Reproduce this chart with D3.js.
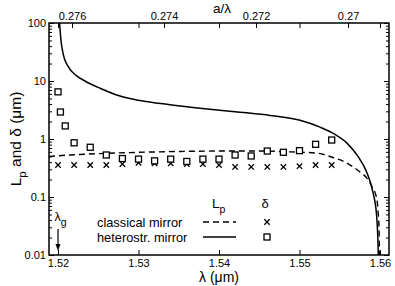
<!DOCTYPE html>
<html lang="en">
<head>
<meta charset="UTF-8">
<title>Lp and delta</title>
<script src="https://d3js.org/d3.v7.min.js"></script>
<style>
    body { margin: 0; background: #fff; }
    svg text { font-family: "Liberation Sans", Arial, sans-serif; fill: #000; }
    .tick text { font-size: 11px; }
</style>
</head>
<body>
<svg id="chart"></svg>
<script>
    // heterostructure mirror, Lp (solid)
    const hetLambda = [1.52019, 1.52037, 1.52062, 1.52124, 1.52224, 1.52335, 1.52522, 1.52770, 1.53019,
        1.53391, 1.53764, 1.54261, 1.54634, 1.55006, 1.55255, 1.55441, 1.55590, 1.55727, 1.55839,
        1.55913, 1.55957, 1.55973, 1.55979];
    const hetLp = [100, 50, 30, 18, 12.5, 10, 7.5, 5.5, 4.6, 3.9, 3.4, 2.9, 2.55, 2.1, 1.6, 1.2, 0.85,
        0.5, 0.26, 0.12, 0.05, 0.02, 0.01];

    // classical mirror, Lp (dashed)
    const clsLambda = [1.51888, 1.52149, 1.52522, 1.53019, 1.53516, 1.54012, 1.54509, 1.54882, 1.55217,
        1.55416, 1.55565, 1.55652, 1.55752, 1.55839, 1.55901, 1.55938, 1.55967, 1.55979, 1.55988, 1.55994];
    const clsLp = [0.50, 0.53, 0.56, 0.59, 0.61, 0.62, 0.62, 0.60, 0.57, 0.48, 0.40, 0.34, 0.27, 0.21,
        0.15, 0.12, 0.08, 0.05, 0.03, 0.01];

    // delta, classical mirror (crosses)
    const crossLambda = [1.520, 1.522, 1.524, 1.526, 1.528, 1.530, 1.532, 1.534, 1.536, 1.538, 1.540,
        1.542, 1.544, 1.546, 1.548, 1.550, 1.552, 1.554];
    const crossDelta = [0.356, 0.356, 0.356, 0.356, 0.37, 0.39, 0.38, 0.38, 0.37, 0.37, 0.356, 0.33,
        0.33, 0.33, 0.33, 0.34, 0.356, 0.356];

    // delta, heterostructure mirror (squares)
    const sqLambda = [1.5200, 1.5203, 1.5209, 1.522, 1.524, 1.526, 1.528, 1.530, 1.532, 1.534, 1.536,
        1.538, 1.540, 1.542, 1.544, 1.546, 1.548, 1.550, 1.552, 1.554];
    const sqDelta = [6.5, 2.92, 1.68, 0.86, 0.72, 0.53, 0.46, 0.45, 0.42, 0.45, 0.41, 0.45, 0.45, 0.53,
        0.51, 0.62, 0.59, 0.63, 0.81, 0.96];

    const lambdaTicks = [1.52, 1.53, 1.54, 1.55, 1.56];
    const aTicks = [0.276, 0.274, 0.272, 0.27];
    const yTicks = [0.01, 0.1, 1, 10, 100];
    const yTickLabels = ["0.01", "0.1", "1", "10", "100"];

    const width = 395, height = 286;
    const m = {left: 49, right: 6, top: 23, bottom: 31};
    const iw = width - m.left - m.right, ih = height - m.top - m.bottom;

    const svg = d3.select("#chart").attr("width", width).attr("height", height);
    const g = svg.append("g").attr("transform", `translate(${m.left},${m.top})`);

    const x = d3.scaleLinear().domain([1.51888, 1.56112]).range([0, iw]);
    const xTop = d3.scaleLinear().domain([0.27650, 0.26911]).range([0, iw]);
    const y = d3.scaleLog().domain([0.01, 100]).range([ih, 0]);

    const minors = y.ticks().filter(v => !yTicks.some(t => Math.abs(t - v) / t < 1e-6));

    // axes, ticks pointing inward
    g.append("g").attr("transform", `translate(0,${ih})`)
        .call(d3.axisBottom(x).tickValues(lambdaTicks).tickFormat(d3.format(".2f"))
            .tickSizeInner(-5).tickSizeOuter(0).tickPadding(4));
    g.append("g")
        .call(d3.axisTop(xTop).tickValues(aTicks).tickFormat(d => d === 0.27 ? "0.27" : d3.format(".3f")(d))
            .tickSizeInner(-5).tickSizeOuter(0).tickPadding(3));
    g.append("g")
        .call(d3.axisTop(x).tickValues(lambdaTicks).tickFormat("").tickSizeInner(-5).tickSizeOuter(0));
    g.append("g")
        .call(d3.axisLeft(y).tickValues(yTicks).tickFormat((d, i) => yTickLabels[i])
            .tickSizeInner(-5).tickSizeOuter(0).tickPadding(3));
    g.append("g").call(d3.axisLeft(y).tickValues(minors).tickFormat("").tickSizeInner(-3).tickSizeOuter(0));
    g.append("g").attr("transform", `translate(${iw},0)`)
        .call(d3.axisRight(y).tickValues(yTicks).tickFormat("").tickSizeInner(-5).tickSizeOuter(0));
    g.append("g").attr("transform", `translate(${iw},0)`)
        .call(d3.axisRight(y).tickValues(minors).tickFormat("").tickSizeInner(-3).tickSizeOuter(0));
    g.selectAll(".domain").remove();
    g.selectAll(".tick line").attr("stroke", "#000").attr("stroke-width", 1);

    g.append("rect").attr("width", iw).attr("height", ih)
        .attr("fill", "none").attr("stroke", "#000").attr("stroke-width", 1.5);

    // curves
    g.append("clipPath").attr("id", "clip").append("rect").attr("width", iw).attr("height", ih);
    const line = d3.line().x(d => x(d[0])).y(d => y(d[1])).curve(d3.curveMonotoneX);
    const plot = g.append("g").attr("clip-path", "url(#clip)");
    plot.append("path").datum(d3.zip(hetLambda, hetLp)).attr("d", line)
        .attr("fill", "none").attr("stroke", "#000").attr("stroke-width", 1.5);
    plot.append("path").datum(d3.zip(clsLambda, clsLp)).attr("d", line)
        .attr("fill", "none").attr("stroke", "#000").attr("stroke-width", 1.4).attr("stroke-dasharray", "6,4");

    // markers
    const cs = 2.7;
    plot.selectAll(".cross").data(d3.zip(crossLambda, crossDelta)).join("path")
        .attr("class", "cross")
        .attr("d", d => `M${x(d[0]) - cs},${y(d[1]) - cs}L${x(d[0]) + cs},${y(d[1]) + cs}M${x(d[0]) - cs},${y(d[1]) + cs}L${x(d[0]) + cs},${y(d[1]) - cs}`)
        .attr("stroke", "#000").attr("stroke-width", 1.3);
    const ss = 6;
    plot.selectAll(".sq").data(d3.zip(sqLambda, sqDelta)).join("rect")
        .attr("class", "sq")
        .attr("x", d => x(d[0]) - ss / 2).attr("y", d => y(d[1]) - ss / 2)
        .attr("width", ss).attr("height", ss)
        .attr("fill", "#fff").attr("stroke", "#000").attr("stroke-width", 1.3);

    // axis titles
    svg.append("text").attr("x", m.left + iw / 2).attr("y", 282).attr("text-anchor", "middle")
        .attr("font-size", 14).text("λ  (μm)");
    svg.append("text").attr("x", 222).attr("y", 13).attr("text-anchor", "middle")
        .attr("font-size", 13.5).text("a/λ");
    const yl = svg.append("text").attr("transform", `translate(21,${m.top + ih / 2}) rotate(-90)`)
        .attr("text-anchor", "middle").attr("font-size", 15.5);
    yl.append("tspan").text("L");
    yl.append("tspan").attr("dy", 5).attr("font-size", 11.5).text("p");
    yl.append("tspan").attr("dy", -5).text("  and  δ  (μm)");

    // legend
    const lg = svg.append("g");
    lg.append("text").attr("x", 97).attr("y", 226.5).attr("font-size", 12.8).text("classical mirror");
    lg.append("text").attr("x", 97).attr("y", 241.5).attr("font-size", 12.8).text("heterostr. mirror");
    const lh = lg.append("text").attr("x", 212).attr("y", 208).attr("font-size", 13.5);
    lh.append("tspan").text("L");
    lh.append("tspan").attr("dy", 5).attr("font-size", 10.5).text("p");
    lg.append("text").attr("x", 265).attr("y", 208).attr("font-size", 13).attr("text-anchor", "middle")
        .attr("font-family", "DejaVu Serif").text("δ");
    lg.append("line").attr("x1", 203).attr("x2", 236).attr("y1", 222).attr("y2", 222)
        .attr("stroke", "#000").attr("stroke-width", 1.4).attr("stroke-dasharray", "6,4");
    lg.append("line").attr("x1", 203).attr("x2", 236).attr("y1", 237).attr("y2", 237)
        .attr("stroke", "#000").attr("stroke-width", 1.5);
    lg.append("path").attr("d", `M${267 - cs},${222 - cs}L${267 + cs},${222 + cs}M${267 - cs},${222 + cs}L${267 + cs},${222 - cs}`)
        .attr("stroke", "#000").attr("stroke-width", 1.3);
    lg.append("rect").attr("x", 267 - ss / 2).attr("y", 237 - ss / 2).attr("width", ss).attr("height", ss)
        .attr("fill", "#fff").attr("stroke", "#000").attr("stroke-width", 1.3);

    // lambda_g marker
    const lgx = m.left + x(1.52);
    const lt = svg.append("text").attr("x", lgx - 3.5).attr("y", 221).attr("font-size", 12.5);
    lt.append("tspan").text("λ");
    lt.append("tspan").attr("dy", 5).attr("font-size", 10.5).text("g");
    svg.append("line").attr("x1", lgx).attr("x2", lgx).attr("y1", 229).attr("y2", 247)
        .attr("stroke", "#000").attr("stroke-width", 1.2);
    svg.append("path").attr("d", `M${lgx - 2.5},${244}L${lgx},${251}L${lgx + 2.5},${244}Z`).attr("fill", "#000");
</script>
</body>
</html>
